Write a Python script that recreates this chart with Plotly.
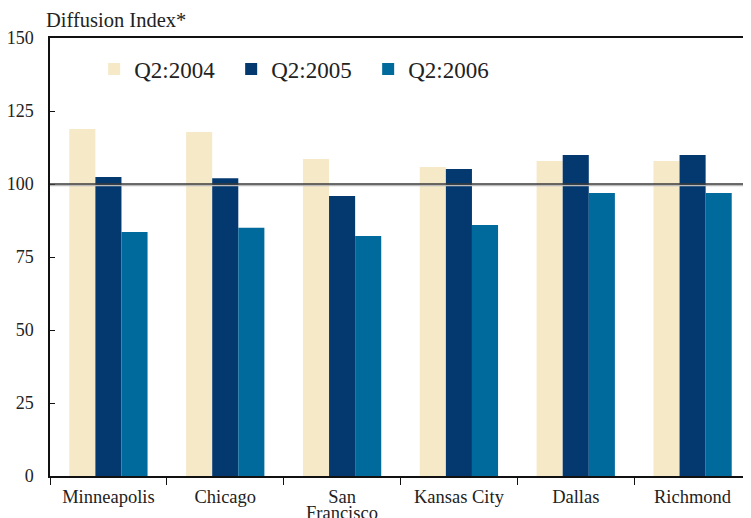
import plotly.graph_objects as go

cidades = ['Minneapolis', 'Chicago', 'San Francisco', 'Kansas City', 'Dallas', 'Richmond']
rotulos = ['Minneapolis', 'Chicago', 'San', 'Kansas City', 'Dallas', 'Richmond']
q2_2004 = [118.8, 117.8, 108.6, 105.8, 107.9, 107.9]
q2_2005 = [102.4, 102.0, 95.9, 105.1, 109.9, 109.9]
q2_2006 = [83.6, 85.0, 82.2, 86.0, 96.9, 96.9]
ticks_y = [0, 25, 50, 75, 100, 125, 150]

fonte = 'Liberation Serif'

fig = go.Figure()
fig.add_trace(go.Bar(x=cidades, y=q2_2004, name='Q2:2004', marker_color='#F6E9C7', marker_line_width=0))
fig.add_trace(go.Bar(x=cidades, y=q2_2005, name='Q2:2005', marker_color='#04396F', marker_line_width=0))
fig.add_trace(go.Bar(x=cidades, y=q2_2006, name='Q2:2006', marker_color='#006A9D', marker_line_width=0))

# linha de referencia em 100 (com sombra cinza logo abaixo)
fig.add_shape(type='line', xref='paper', x0=0, x1=1, yref='y', y0=99.5, y1=99.5,
              line=dict(color='#BBBBBB', width=1.5), layer='above')
fig.add_shape(type='line', xref='paper', x0=0, x1=1, yref='y', y0=100, y1=100,
              line=dict(color='#3A3A3A', width=1.3), layer='above')

fig.add_annotation(text='Diffusion Index*', xref='paper', yref='paper', x=-0.008, y=1.0,
                   xanchor='left', yanchor='bottom', yshift=5, showarrow=False,
                   font=dict(family=fonte, size=20.5, color='#222222'))

# segunda linha do rotulo "San Francisco", mais junta como no original
fig.add_annotation(text='Francisco', xref='x', x='San Francisco', yref='paper', y=0,
                   yanchor='top', yshift=-25, showarrow=False,
                   font=dict(family=fonte, size=18.5, color='#222222'))

# a pagina tem margem de 8px no body, por isso o tamanho menor
fig.update_layout(
    width=743, height=510,
    margin=dict(l=42, r=0, t=30, b=42),
    paper_bgcolor='white', plot_bgcolor='white',
    barmode='group', bargap=0.33, bargroupgap=0,
    font=dict(family=fonte, size=17, color='#222222'),
    legend=dict(orientation='h', x=0.063, y=0.978, xanchor='left', yanchor='top',
                font=dict(size=23), entrywidth=92, bgcolor='rgba(0,0,0,0)'),
    xaxis=dict(showline=True, linecolor='#111111', linewidth=1.5, mirror=True,
               ticks='outside', tickson='boundaries', ticklen=7, tickcolor='#111111',
               tickvals=cidades, ticktext=rotulos,
               showgrid=False, tickfont=dict(size=18.5), automargin=False,
               ticklabelstandoff=3),
    yaxis=dict(range=[0, 150], tickvals=ticks_y, showline=True, linecolor='#111111',
               linewidth=1.5, ticks='inside', ticklen=5, tickcolor='#111111',
               showgrid=False, zeroline=False, ticklabelstandoff=11,
               tickfont=dict(size=18), automargin=False),
)

fig.write_html('out.html')
